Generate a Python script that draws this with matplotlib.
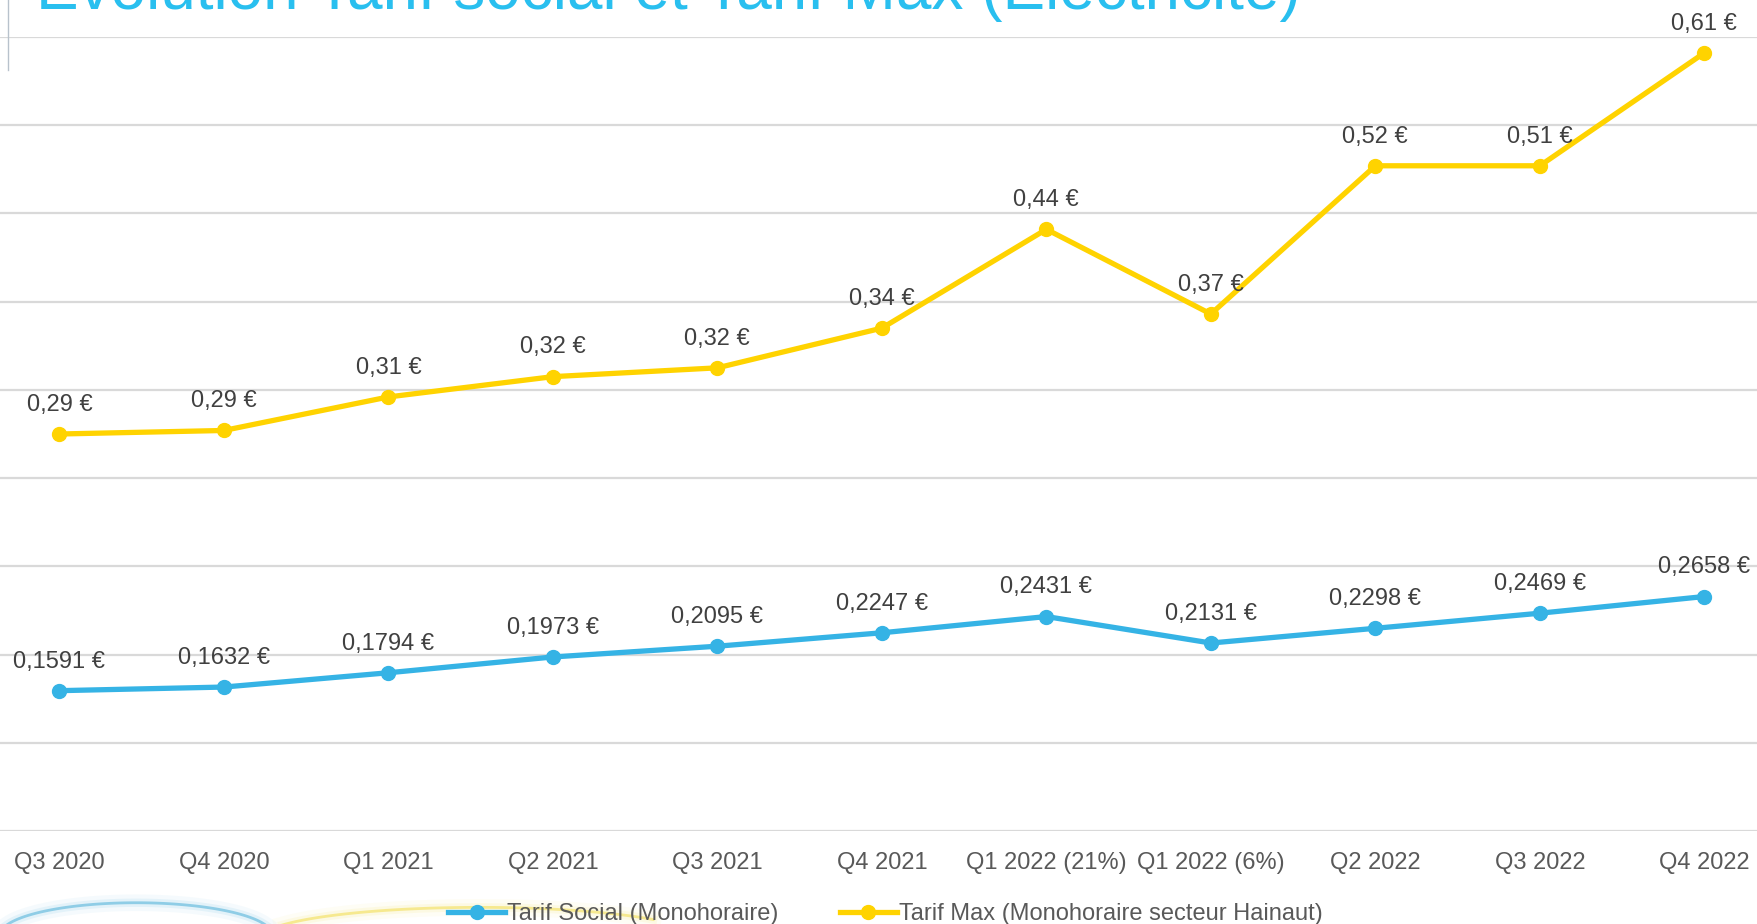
import numpy as np
import matplotlib
matplotlib.use("Agg")
import matplotlib.pyplot as plt
from matplotlib.lines import Line2D

plt.rcParams['font.family'] = ['Liberation Sans', 'DejaVu Sans']

# data
quarters = ["Q3 2020", "Q4 2020", "Q1 2021", "Q2 2021", "Q3 2021", "Q4 2021",
            "Q1 2022 (21%)", "Q1 2022 (6%)", "Q2 2022", "Q3 2022", "Q4 2022"]

tarif_social = [0.1591, 0.1632, 0.1794, 0.1973, 0.2095, 0.2247,
                0.2431, 0.2131, 0.2298, 0.2469, 0.2658]

# tarif max sits on its own (hidden) scale in the original, values here are
# where the points fall on the shared grid
tarif_max = [0.450, 0.454, 0.492, 0.515, 0.525, 0.570,
             0.682, 0.586, 0.754, 0.754, 0.882]
tarif_max_labels = ["0,29 €", "0,29 €", "0,31 €", "0,32 €", "0,32 €", "0,34 €",
                    "0,44 €", "0,37 €", "0,52 €", "0,51 €", "0,61 €"]

name_social = "Tarif Social (Monohoraire)"
name_max = "Tarif Max (Monohoraire secteur Hainaut)"
title = "Évolution Tarif social et Tarif Max (Électricité)"

col_social = "#35B3E5"
col_max = "#FFD300"
col_text = "#404040"
col_tick = "#595959"

fig = plt.figure(figsize=(17.57, 9.24), dpi=100)
fig.patch.set_facecolor("white")

# decorative swooshes bottom left (glow + thin core)
t = np.linspace(0, np.pi, 120)
for lw, a in [(12, 0.05), (6, 0.10), (2, 0.55)]:
    fig.add_artist(Line2D(0.0 + 0.155 * (1 - np.cos(t)) / 2, -0.012 + 0.035 * np.sin(t),
                          color="#4AAFD8", lw=lw, alpha=a, transform=fig.transFigure))
    tt = t[:95]
    fig.add_artist(Line2D(0.148 + 0.25 * (1 - np.cos(tt)) / 2, -0.016 + 0.034 * np.sin(tt),
                          color="#F2DC4A", lw=lw, alpha=a, transform=fig.transFigure))

ax = fig.add_axes([0, 0.1006, 1, 0.8594])
x = np.arange(len(quarters))

ax.plot(x, tarif_social, color=col_social, lw=3.8, marker="o", ms=10, zorder=3)
ax.plot(x, tarif_max, color=col_max, lw=3.8, marker="o", ms=10, zorder=3)

for xi, v in zip(x, tarif_social):
    ax.annotate(f"{v:.4f} €".replace(".", ","), (xi, v), xytext=(0, 21),
                textcoords="offset points", ha="center", va="center",
                fontsize=17, color=col_text, zorder=5, annotation_clip=False)
for xi, v, lab in zip(x, tarif_max, tarif_max_labels):
    ax.annotate(lab, (xi, v), xytext=(0, 21), textcoords="offset points",
                ha="center", va="center", fontsize=17, color=col_text,
                zorder=5, annotation_clip=False)

ax.set_xlim(-0.361, 10.32)
ax.set_ylim(0, 0.9)
ax.set_yticks(np.arange(0, 0.91, 0.1))
ax.yaxis.grid(True, color="#D9D9D9", lw=1.6)
ax.set_axisbelow(True)
ax.tick_params(axis="y", left=False, labelleft=False)
ax.set_xticks(x)
ax.set_xticklabels(quarters, fontsize=17, color=col_tick)
ax.tick_params(axis="x", length=0, pad=15)
for s in ax.spines.values():
    s.set_visible(False)

fig.text(0.0205, 1 - 9 / 924, title, fontsize=46, color="#29BFEF",
         va="baseline", ha="left")
fig.add_artist(Line2D([0.0046, 0.0046], [1.0, 1 - 70 / 924], color="#B8C2CC",
                      lw=1, transform=fig.transFigure))

handles = [Line2D([], [], color=col_social, lw=3.8, marker="o", ms=10),
           Line2D([], [], color=col_max, lw=3.8, marker="o", ms=10)]
leg = fig.legend(handles, [name_social, name_max], loc="center",
                 bbox_to_anchor=(0.504, 0.011), ncol=2, frameon=False,
                 fontsize=17, handlelength=2.4, handletextpad=0.1,
                 columnspacing=2.6, borderpad=0, borderaxespad=0)
for txt in leg.get_texts():
    txt.set_color(col_tick)

fig.savefig("out.png", dpi=100, facecolor="white")
